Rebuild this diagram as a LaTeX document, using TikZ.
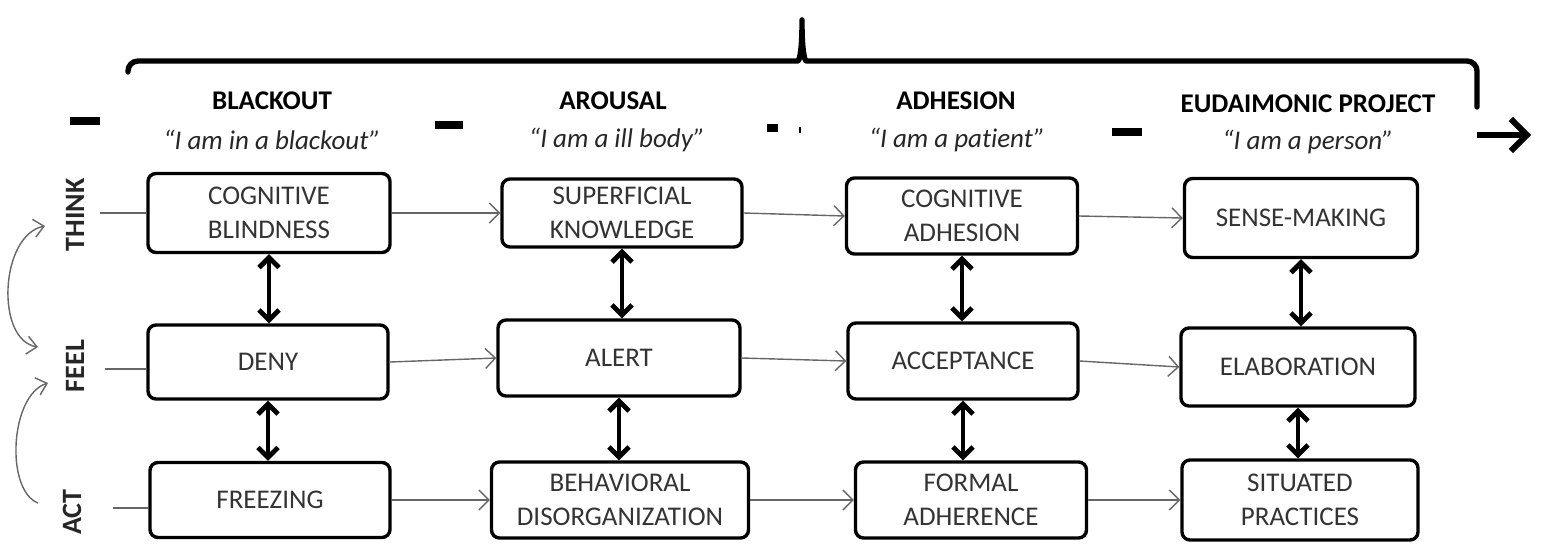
\documentclass[tikz,border=0pt]{standalone}
\usepackage{fontspec}
\setmainfont{Carlito}[Ligatures=NoCommon]
\usetikzlibrary{arrows.meta}

\begin{document}
\begin{tikzpicture}[x=0.5pt, y=-0.5pt, font=\fontsize{13.5}{17}\selectfont,
	stage/.style={draw, line width=1.7pt, rounded corners=4pt, align=center, text=black!80, inner sep=2pt},
	flow/.style={draw=black!60, line width=0.7pt, -{Straight Barb[length=5pt,width=10pt]}},
	link/.style={line width=2.4pt, {Straight Barb[length=5pt,width=10pt]}-{Straight Barb[length=5pt,width=10pt]}},
	cycle/.style={draw=black!60, line width=0.7pt},
	phase/.style={font=\fontsize{13.5}{15}\selectfont\bfseries},
	motto/.style={font=\fontsize{13.5}{15}\selectfont\itshape, text=black!85},
	level/.style={rotate=90, font=\fontsize{14}{15}\selectfont\bfseries, text=black!85}]
	\useasboundingbox (0,0) rectangle (1549,543);
	%timeline
	\draw[line width=2.7pt, line join=round, line cap=round, rounded corners=5pt]
	(128,72) -- (128,61) -- (788,61) .. controls (799,61) and (802,52) .. (802,14)
	.. controls (802,52) and (805,61) .. (816,61) -- (1477,61) -- (1477,107);
	\coordinate (now) at (1477,135);
	\coordinate (later) at (1531,135);
	\draw[line width=3pt, -{Straight Barb[length=8pt,width=16pt]}] (now) -- (later);
	\foreach \xa/\xb/\y in {70/100/121, 435/463/125, 767/778/128, 1112/1142/132}
	\draw[line width=4pt] (\xa,\y) -- (\xb,\y);
	\draw[line width=1pt] (800,127) -- (800,133);
	%phases
	\node[phase] (h1) at (272,101) {BLACKOUT};
	\node[motto] (q1) at (272,140) {“I am in a blackout”};
	\node[phase] (h2) at (613,101) {AROUSAL};
	\node[motto] (q2) at (617,140) {“I am a ill body”};
	\node[phase] (h3) at (956,101) {ADHESION};
	\node[motto] (q3) at (957,140) {“I am a patient”};
	\node[phase] (h4) at (1308,104) {EUDAIMONIC PROJECT};
	\node[motto] (q4) at (1308,142) {“I am a person”};
	%levels
	\node[level] (think) at (75,215) {THINK};
	\node[level] (feel) at (75,366) {FEEL};
	\node[level] (act) at (72,512) {ACT};
	%boxes
	\node[stage, minimum width=121pt, minimum height=39.5pt] (t1) at (269,213) {COGNITIVE\\BLINDNESS};
	\node[stage, minimum width=120pt, minimum height=37pt] (f1) at (268,362) {DENY};
	\node[stage, minimum width=120pt, minimum height=37.5pt] (a1) at (270,500) {FREEZING};
	\node[stage, minimum width=120pt, minimum height=34pt] (t2) at (622,213) {SUPERFICIAL\\KNOWLEDGE};
	\node[stage, minimum width=121pt, minimum height=38pt] (f2) at (619,358) {ALERT};
	\node[stage, minimum width=128.5pt, minimum height=38pt] (a2) at (620,500) {BEHAVIORAL\\DISORGANIZATION};
	\node[stage, minimum width=115.5pt, minimum height=38pt] (t3) at (962,216) {COGNITIVE\\ADHESION};
	\node[stage, minimum width=115pt, minimum height=38pt] (f3) at (963,361) {ACCEPTANCE};
	\node[stage, minimum width=115.5pt, minimum height=38pt] (a3) at (971,500) {FORMAL\\ADHERENCE};
	\node[stage, minimum width=116.5pt, minimum height=39.5pt] (t4) at (1301,218) {SENSE-MAKING};
	\node[stage, minimum width=117pt, minimum height=39pt] (f4) at (1298,367) {ELABORATION};
	\node[stage, minimum width=118pt, minimum height=40pt] (a4) at (1300,500) {SITUATED\\PRACTICES};
	%flows
	\coordinate (thinkin) at (100,213);
	\coordinate (feelin) at (105,369);
	\coordinate (actin) at (113,508);
	\draw[cycle] (thinkin) -- (thinkin -| t1.west);
	\draw[cycle] (feelin) -- (feelin -| f1.west);
	\draw[cycle] (actin) -- (actin -| a1.west);
	\foreach \r in {t,f,a}
	\foreach \c/\n in {1/2,2/3,3/4}
	\draw[flow] (\r\c.east) -- (\r\n.west);
	\foreach \c in {1,...,4}{
		\draw[link] (t\c.south) -- (t\c.south |- f\c.north);
		\draw[link] (f\c.south) -- (f\c.south |- a\c.north);
	}
	%cycles
	\coordinate (up1) at (45,226);
	\coordinate (down1) at (38,347);
	\coordinate (up2) at (48,383);
	\coordinate (down2) at (38,503);
	\draw[cycle, {Straight Barb[length=5pt,width=9pt]}-{Straight Barb[length=5pt,width=9pt]}]
	(up1) .. controls (0,235) and (-5,340) .. (down1);
	\draw[cycle, -{Straight Barb[length=5pt,width=9pt]}]
	(down2) .. controls (5,490) and (10,395) .. (up2);
\end{tikzpicture}
\end{document}
